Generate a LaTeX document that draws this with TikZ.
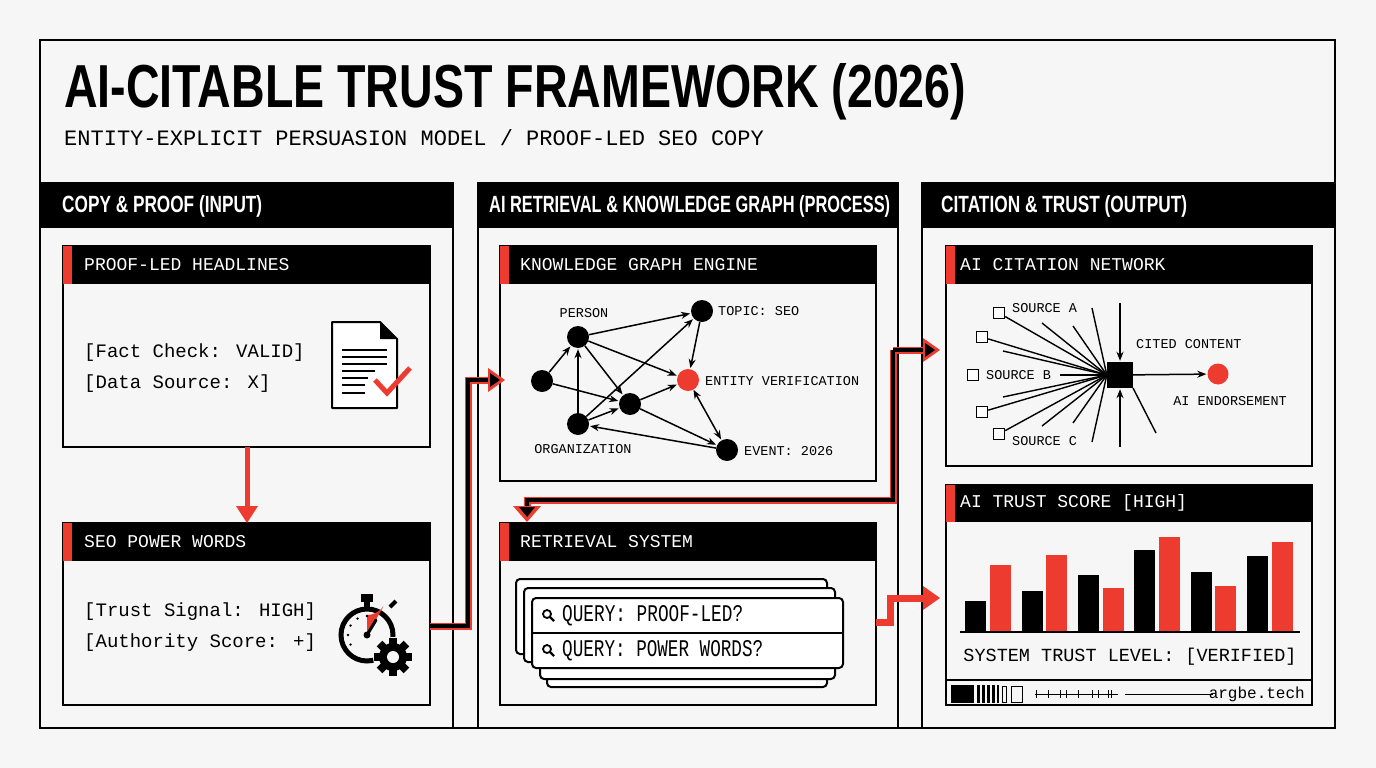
\documentclass[tikz,border=0pt]{standalone}
\usepackage{fontspec}
\setmainfont{Liberation Mono}
\newfontfamily\hsans{Liberation Sans}
\usepackage{graphicx}
\usetikzlibrary{arrows.meta}
\definecolor{rd}{HTML}{EE3B30}
\definecolor{bg}{HTML}{F6F6F6}
\newcommand{\fitw}[3]{\resizebox{#1pt}{#2pt}{\hsans\bfseries #3}}
\tikzset{
 box/.style={draw=black,line width=2.2pt,fill=bg},
 hdr/.style={fill=black},
 htxt/.style={anchor=west,text=white,inner sep=0},
 sub/.style={anchor=west,text=white,inner sep=0,font=\fontsize{18}{20}\selectfont},
 body/.style={anchor=west,inner sep=0,font=\fontsize{19}{22}\selectfont},
 glab/.style={inner sep=0,font=\fontsize{13.5}{15}\selectfont},
 gn/.style={circle,fill=black,minimum size=22pt,inner sep=0},
 ga/.style={-{Stealth[length=9pt,width=7pt]},line width=1.5pt,shorten >=1pt},
 spoke/.style={line width=1.4pt},
 sq/.style={draw=black,line width=1.5pt,fill=white,minimum size=11pt,inner sep=0},
 card/.style={draw=black,line width=2pt,fill=white,rounded corners=4pt},
}
\begin{document}
\begin{tikzpicture}[x=1pt,y=-1pt]
\useasboundingbox (0,0) rectangle (1376,768);
\fill[bg] (0,0) rectangle (1376,768);
\draw[line width=2.2pt] (40,40) rectangle (1335,728);
\node[anchor=west,inner sep=0] (title) at (64,92) {\fitw{902}{44}{AI-CITABLE TRUST FRAMEWORK (2026)}};
\node[anchor=west,inner sep=0,font=\fontsize{22}{24}\selectfont] (subt) at (64,138) {ENTITY-EXPLICIT PERSUASION MODEL / PROOF-LED SEO COPY};
% columns
\foreach \a/\b in {40/453,478/898,922/1335}{
 \draw[box] (\a,183) rectangle (\b,728);
 \fill[hdr] (\a,183) rectangle (\b,228);
}
\node[htxt] (c1) at (62,206) {\fitw{200}{17}{COPY \& PROOF (INPUT)}};
\node[htxt] (c2) at (489,206) {\fitw{401}{17}{AI RETRIEVAL \& KNOWLEDGE GRAPH (PROCESS)}};
\node[htxt] (c3) at (941,206) {\fitw{246}{17}{CITATION \& TRUST (OUTPUT)}};
% sub panels
\foreach \a/\t/\b/\c/\h in {63/246/430/447/284, 63/523/430/705/561, 500/246/876/481/284, 500/523/876/705/561, 946/246/1312/466/284, 946/485/1312/705/522}{
 \draw[box] (\a,\t) rectangle (\b,\c);
 \fill[hdr] (\a,\t) rectangle (\b,\h);
 \fill[rd] (\a,\t) rectangle (\a+9,\h);
}
\node[sub] (p1) at (84,265) {PROOF-LED HEADLINES};
\node[sub] (p2) at (84,542) {SEO POWER WORDS};
\node[sub] (p3) at (520,265) {KNOWLEDGE GRAPH ENGINE};
\node[sub] (p4) at (520,542) {RETRIEVAL SYSTEM};
\node[sub] (p5) at (960,265) {AI CITATION NETWORK};
\node[sub] (p6) at (960,503) {AI TRUST SCORE [HIGH]};
% body text
\node[body] (t1) at (84,353) {[Fact Check: VALID]};
\node[body] (t2) at (84,384) {[Data Source: X]};
\node[body] (t3) at (84,612) {[Trust Signal: HIGH]};
\node[body] (t4) at (84,643) {[Authority Score: +]};
% doc icon
\draw[line width=2pt,fill=white,line join=round] (332,322) -- (380,322) -- (397,339) -- (397,408) -- (332,408) -- cycle;
\fill (380,322) -- (397,339) -- (380,339) -- cycle;
\foreach \y/\l in {350/387,357/387,364/387,371/375,378/368,385/365,393/365}{\draw[line width=1.8pt] (342,\y) -- (\l,\y);}
\draw[rd,line width=5pt,line join=miter] (375,380) -- (387,393) -- (410,368);
% stopwatch icon
\draw[line width=5pt] (367,635) circle (26);
\fill (361,594) rectangle (373,602);
\fill (364,602) rectangle (370,609);
\draw[line width=4pt] (390,607) -- (396,601);
\fill[rd] (367,635) -- (367,615) arc[start angle=90,end angle=35,radius=20] -- cycle;
\draw[line width=3pt,line cap=round] (367,635) -- (376,620);
\fill (367,635) circle (3.5);
\foreach \ang in {180,210,240,270,150}{\fill (367,635) ++(\ang:19) circle (1.3);}
\begin{scope}[shift={(393,657)}]
\fill[bg] (0,0) circle (20);
\foreach \ang in {0,45,...,315}{\fill[rotate=\ang] (-4,-19) rectangle (4,-11);}
\fill (0,0) circle (14);
\fill[bg] (0,0) circle (6);
\end{scope}
% red arrow between left panels
\draw[rd,line width=5pt] (247,447) -- (247,510);
\fill[rd] (236,506) -- (258,506) -- (247,523) -- cycle;
% connectors
\coordinate (a1s) at (430,626);
\coordinate (a1e) at (505,380);
\coordinate (j) at (893,350);
\coordinate (a2e) at (940,350);
\coordinate (a3e) at (527,522);
\coordinate (a4s) at (876,622);
\coordinate (a4e) at (940,598);
\tikzset{fat/.style={line width=7pt,draw=rd},thin/.style={line width=3.5pt,draw=black}}
\foreach \s in {fat,thin}{
 \draw[\s] (a1s) -- (468,626) -- (468,380) -- (490,380);
 \draw[\s] (j) -- (926,350);
 \draw[\s] (j) -- (893,500) -- (527,500) -- (527,508);
}
\draw[line width=7pt,rd] (a4s) -- (890,622) -- (890,598) -- (926,598);
\foreach \p/\d in {a1e/0,a2e/0,a4e/0}{
 \fill[rd] (\p) -- ++(-17,-12) -- ++(0,24) -- cycle;}
\fill[black] (a1e)++(-5,0) -- ++(-10,-7) -- ++(0,14) -- cycle;
\fill[black] (a2e)++(-5,0) -- ++(-10,-7) -- ++(0,14) -- cycle;
\fill[rd] (a3e) -- ++(-14,-16) -- ++(28,0) -- cycle;
\fill[black] (a3e)++(0,-5) -- ++(-8,-10) -- ++(16,0) -- cycle;
% knowledge graph
\node[gn] (lf) at (542,381) {};
\node[gn] (pe) at (578,337) {};
\node[gn] (mi) at (630,404) {};
\node[gn] (og) at (578,424) {};
\node[gn] (tp) at (702,311) {};
\node[gn,fill=rd] (en) at (688,380) {};
\node[gn] (ev) at (727,450) {};
\node[glab] (lpe) at (584,313) {PERSON};
\node[glab,anchor=west] (ltp) at (718,311) {TOPIC: SEO};
\node[glab,anchor=west] (len) at (705,381) {ENTITY VERIFICATION};
\node[glab] (log) at (583,449) {ORGANIZATION};
\node[glab,anchor=west] (lev) at (744,451) {EVENT: 2026};
\draw[ga] (lf) -- (pe);
\draw[ga] (lf) -- (mi);
\draw[ga] (og) -- (pe);
\draw[ga] (og) -- (mi);
\draw[ga] (og) -- (tp);
\draw[ga] (pe) -- (tp);
\draw[ga] (pe) -- (en);
\draw[ga] (pe) -- (mi);
\draw[ga] (mi) -- (en);
\draw[ga] (mi) -- (ev);
\draw[ga] (ev) -- (og);
\draw[ga] (tp) -- (en);
\draw[ga,{Stealth[length=9pt,width=7pt]}-{Stealth[length=9pt,width=7pt]}] (en) -- (ev);
% query cards
\draw[card] (547,612) rectangle (827,687);
\draw[card] (540,604) rectangle (835,679);
\draw[card] (516,579) rectangle (827,654);
\draw[card] (524,588) rectangle (835,662);
\draw[card] (532,598) rectangle (843,668);
\draw[line width=1.6pt] (532,633) -- (843,633);
\foreach \y/\t/\w [count=\i] in {616/QUERY: PROOF-LED?/181,651/QUERY: POWER WORDS?/201}{
 \draw[line width=1.8pt] (547,\y-2) circle (4);
 \draw[line width=2.2pt] (550,\y+1) -- (554,\y+5);
 \node[anchor=west,inner sep=0,font=\fontsize{18}{20}\selectfont] (q\i) at (562,\y) {\resizebox{\w pt}{16pt}{\t}};
}
% citation network
\node[fill=black,minimum size=26pt,inner sep=0] (cc) at (1120,375) {};
\node[sq] (sa) at (999,313) {};
\node[sq] (s2) at (982,337) {};
\node[sq] (sb) at (973,375) {};
\node[sq] (s4) at (982,412) {};
\node[sq] (sc) at (999,434) {};
\foreach \n in {sa,s2,s4,sc}{\draw[spoke] (\n) -- (cc.west);}
\draw[spoke] (1060,375) -- (cc.west);
\foreach \p in {(1042,323),(1073,326),(1092,308),(1003,351),(1003,397),(1042,426),(1073,423),(1092,442)}{\draw[spoke] \p -- (cc.west);}
\draw[spoke] (1156,433) -- (1133,388);
\node[glab,anchor=west] (la) at (1012,308) {SOURCE A};
\node[glab,anchor=west] (lb) at (986,375) {SOURCE B};
\node[glab,anchor=west] (lc) at (1012,441) {SOURCE C};
\node[glab,anchor=west] (lcc) at (1136,344) {CITED CONTENT};
\node[circle,fill=rd,minimum size=21pt,inner sep=0] (ae) at (1218,374) {};
\node[glab] (lae) at (1230,401) {AI ENDORSEMENT};
\coordinate (up) at (1120,303);
\coordinate (dn) at (1120,447);
\draw[ga] (up) -- (cc);
\draw[ga] (dn) -- (cc);
\draw[ga] (cc) -- (ae);
% bar chart
\foreach \x/\t in {965/601,1022/591,1078/575,1134/550,1191/572,1247/556}{\fill (\x,\t) rectangle (\x+21,632);}
\foreach \x/\t in {990/565,1046/555,1103/588,1159/537,1215/586,1272/542}{\fill[rd] (\x,\t) rectangle (\x+21,632);}
\draw[line width=2pt] (960,632) -- (1300,632);
\node[inner sep=0,font=\fontsize{18.5}{20}\selectfont] (stl) at (1130,657) {SYSTEM TRUST LEVEL: [VERIFIED]};
\draw[line width=2pt] (946,680) -- (1312,680);
\fill (951,685) rectangle (974,703);
\foreach \x/\w in {977/3,982/3,987/3,992/2.5,997/2}{\fill (\x,685) rectangle (\x+\w,703);}
\draw[line width=0.8pt] (1002,686) rectangle (1006,702);
\draw[line width=0.8pt] (1011,686) rectangle (1022,702);
\draw[line width=0.7pt] (1035,694) -- (1118,694);
\foreach \x in {1036,1048,1060,1066,1078,1092,1098,1108,1111}{\draw[line width=0.8pt] (\x,690) -- (\x,698);}
\draw[line width=1pt] (1125,694) -- (1213,694);
\node[anchor=east,inner sep=0,font=\fontsize{16}{18}\selectfont] (arg) at (1305,694) {argbe.tech};
\end{tikzpicture}
\end{document}
